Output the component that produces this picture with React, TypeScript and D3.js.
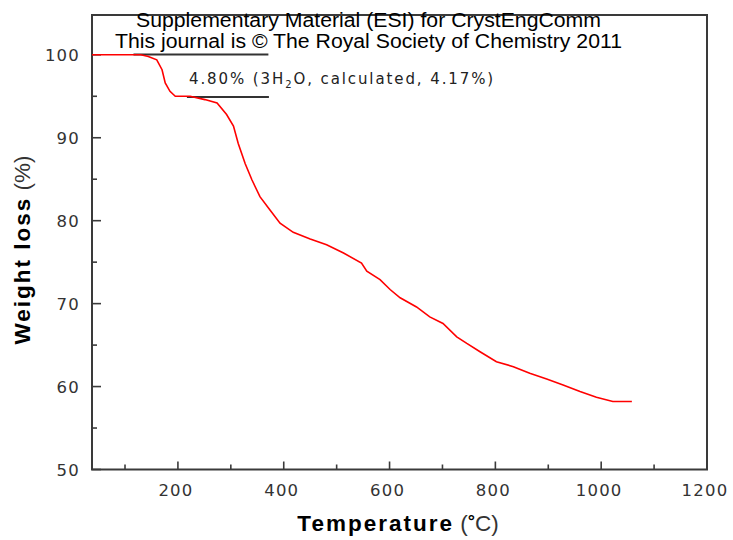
import React from "react";
import * as d3 from "d3";

const temperature = [37.6, 130, 144, 160, 170, 176, 185, 195, 223, 251, 274, 292, 305, 314, 327, 340, 355, 374, 393, 418, 450, 481, 513, 547, 557, 582, 601, 620, 651, 676, 701, 727, 746, 771, 802, 834, 865, 897, 928, 960, 991, 1022, 1058];
const weight = [100, 100, 99.8, 99.4, 98.2, 96.6, 95.6, 95.0, 95.0, 94.6, 94.2, 92.8, 91.4, 89.3, 86.9, 84.9, 82.9, 81.3, 79.7, 78.6, 77.8, 77.1, 76.1, 74.9, 73.9, 72.9, 71.7, 70.7, 69.6, 68.4, 67.6, 66.0, 65.2, 64.2, 63.0, 62.4, 61.6, 60.9, 60.2, 59.4, 58.7, 58.2, 58.2];

const xMajorTicks = [200, 400, 600, 800, 1000, 1200];
const xMinorTicks = [100, 300, 500, 700, 900, 1100];
const yMajorTicks = [50, 60, 70, 80, 90, 100];
const yMinorTicks = [55, 65, 75, 85, 95];

// annotation step lines: [tStart, tEnd, weight]
const stepLineStart = [116, 217];
const stepLineEnd = [371, 372];
const stepLineLevel = [100.05, 94.9];

const annotationText = "4.80% (3H";
const annotationSub = "2";
const annotationRest = "O, calculated, 4.17%)";
const headerLine1 = "Supplementary Material (ESI) for CrystEngComm";
const headerLine2 = "This journal is © The Royal Society of Chemistry 2011";

const W = 733, H = 540;
const L = 92, R = 707, T = 15, B = 469.5;

export default function App() {
  const x = d3.scaleLinear().domain([37.6, 1200]).range([L, R]);
  const y = d3.scaleLinear().domain([50, 104.8]).range([B, T]);
  const data = temperature.map((t, i) => [t, weight[i]] as [number, number]);
  const line = d3.line<[number, number]>().x(d => x(d[0])).y(d => y(d[1])).curve(d3.curveLinear);
  const tickFont = "'DejaVu Sans', sans-serif";
  const axisColor = "#3a3a3a";
  return (
    <div style={{ position: "absolute", left: 0, top: 0 }}>
      <svg width={W} height={H} style={{ display: "block", background: "#fff" }}>
        {/* frame */}
        <rect x={L} y={T} width={R - L} height={B - T} fill="none" stroke={axisColor} strokeWidth={2} />
        {/* ticks */}
        {xMajorTicks.map(t => (
          <line key={"xM" + t} x1={x(t)} x2={x(t)} y1={B} y2={B - 8} stroke={axisColor} strokeWidth={1.6} />
        ))}
        {xMinorTicks.map(t => (
          <line key={"xm" + t} x1={x(t)} x2={x(t)} y1={B} y2={B - 5} stroke={axisColor} strokeWidth={1.6} />
        ))}
        {yMajorTicks.map(t => (
          <line key={"yM" + t} x1={L} x2={L + 9} y1={y(t)} y2={y(t)} stroke={axisColor} strokeWidth={1.6} />
        ))}
        {yMinorTicks.map(t => (
          <line key={"ym" + t} x1={L} x2={L + 5} y1={y(t)} y2={y(t)} stroke={axisColor} strokeWidth={1.6} />
        ))}
        {/* tick labels */}
        {xMajorTicks.map(t => (
          <text key={"xl" + t} x={x(t) - 2} y={495.5} textAnchor="middle" fontFamily={tickFont} fontSize={16.5} letterSpacing={1.2} fill="#333">{t}</text>
        ))}
        {yMajorTicks.map(t => (
          <text key={"yl" + t} x={80} y={y(t) + 6} textAnchor="end" fontFamily={tickFont} fontSize={16.5} letterSpacing={1.2} fill="#333">{t}</text>
        ))}
        {/* step lines */}
        {stepLineStart.map((s, i) => (
          <line key={"sl" + i} x1={x(s)} x2={x(stepLineEnd[i])} y1={y(stepLineLevel[i])} y2={y(stepLineLevel[i])} stroke="#333" strokeWidth={2} />
        ))}
        {/* curve */}
        <path d={line(data) || ""} fill="none" stroke="#ff0000" strokeWidth={1.6} />
        {/* annotation */}
        <text x={189} y={84} fontFamily={tickFont} fontSize={15} letterSpacing={1.9} fill="#222">
          {annotationText}
          <tspan fontSize={10} dy={4}>{annotationSub}</tspan>
          <tspan dy={-4}>{annotationRest}</tspan>
        </text>
        {/* header */}
        <text x={368.5} y={27.3} textAnchor="middle" fontFamily="'Liberation Sans', Arial, sans-serif" fontSize={20} textLength={465} lengthAdjust="spacingAndGlyphs" fill="#000">{headerLine1}</text>
        <text x={368.5} y={48.3} textAnchor="middle" fontFamily="'Liberation Sans', Arial, sans-serif" fontSize={20} textLength={507} lengthAdjust="spacingAndGlyphs" fill="#000">{headerLine2}</text>
        {/* x title */}
        <text x={398} y={531} textAnchor="middle" fontFamily="'Liberation Sans', Arial, sans-serif" fontSize={22.5} fill="#000">
          <tspan fontWeight="bold" letterSpacing={2}>Temperature</tspan>
          <tspan fill="#333" fontWeight="normal"> (</tspan>
          <tspan fontWeight="bold" fontSize={18} dy={-4}>°</tspan>
          <tspan fill="#333" fontWeight="normal" dy={4}>C)</tspan>
        </text>
        {/* y title */}
        <text transform={`translate(30,250) rotate(-90)`} textAnchor="middle" fontFamily="'Liberation Sans', Arial, sans-serif" fontSize={22.5} fill="#000">
          <tspan fontWeight="bold" letterSpacing={2}>Weight loss</tspan>
          <tspan fill="#333" fontWeight="normal"> (%)</tspan>
        </text>
      </svg>
    </div>
  );
}
